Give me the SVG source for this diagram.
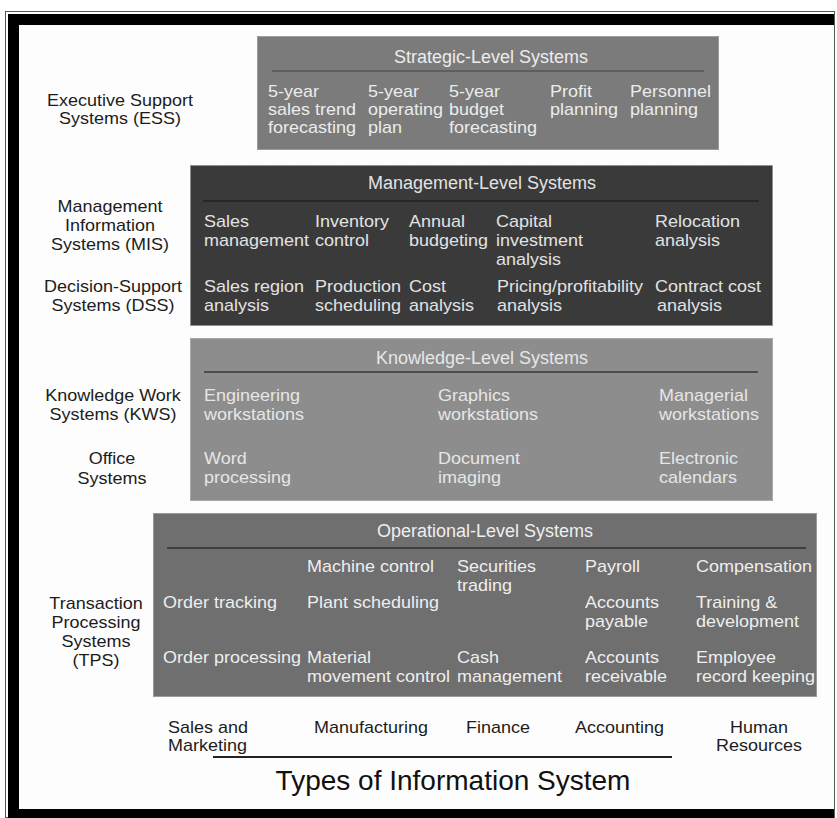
<svg xmlns="http://www.w3.org/2000/svg" width="837" height="818" viewBox="0 0 837 818">
  <style>
    text { font-family: "Liberation Sans", Arial, sans-serif; font-size: 16px; }
    .lbl { fill: #1c1c1c; text-anchor: middle; }
    .bot { fill: #1c1c1c; }
    .mid { text-anchor: middle; }
    .ttl { text-anchor: middle; font-size: 18px; }
    .s-box { fill: #7b7b7b; stroke: #9c9c9c; stroke-width: 1; }
    .m-box { fill: #3a3a3a; stroke: #8a8a8a; stroke-width: 1; stroke-dasharray: 2 1; }
    .k-box { fill: #8d8d8d; stroke: #a8a8a8; stroke-width: 1; }
    .o-box { fill: #6f6f6f; stroke: #9a9a9a; stroke-width: 1; }
    .s-txt { fill: #ececec; }
    .m-txt { fill: #e2e2e2; }
    .k-txt { fill: #e6e6e6; }
    .o-txt { fill: #eeeeee; }
  </style>

  <!-- page and frame -->
  <rect x="0" y="0" width="837" height="818" fill="#ffffff"/>
  <rect x="5.5" y="11.5" width="829" height="806" fill="none" stroke="#555" stroke-width="1"/>
  <rect x="8" y="14" width="826" height="11" fill="#000"/>
  <rect x="8" y="14" width="11" height="804" fill="#000"/>
  <rect x="8" y="809" width="826" height="9" fill="#000"/>
  <rect x="19" y="25" width="815" height="784" fill="#fdfdfd"/>

  <!-- row labels (16px glyphs widened 12.5% horizontally) -->
  <g id="label-ess">
    <text class="lbl" transform="matrix(1.125 0 0 1 120 106)">Executive Support</text>
    <text class="lbl" transform="matrix(1.125 0 0 1 120 124)">Systems (ESS)</text>
  </g>
  <g id="label-mis">
    <text class="lbl" transform="matrix(1.125 0 0 1 110 212)">Management</text>
    <text class="lbl" transform="matrix(1.125 0 0 1 110 231)">Information</text>
    <text class="lbl" transform="matrix(1.125 0 0 1 110 250)">Systems (MIS)</text>
  </g>
  <g id="label-dss">
    <text class="lbl" transform="matrix(1.125 0 0 1 113 292)">Decision-Support</text>
    <text class="lbl" transform="matrix(1.125 0 0 1 113 311)">Systems (DSS)</text>
  </g>
  <g id="label-kws">
    <text class="lbl" transform="matrix(1.125 0 0 1 113 401)">Knowledge Work</text>
    <text class="lbl" transform="matrix(1.125 0 0 1 113 420)">Systems (KWS)</text>
  </g>
  <g id="label-office">
    <text class="lbl" transform="matrix(1.125 0 0 1 112 464)">Office</text>
    <text class="lbl" transform="matrix(1.125 0 0 1 112 484)">Systems</text>
  </g>
  <g id="label-tps">
    <text class="lbl" transform="matrix(1.125 0 0 1 96 609)">Transaction</text>
    <text class="lbl" transform="matrix(1.125 0 0 1 96 628)">Processing</text>
    <text class="lbl" transform="matrix(1.125 0 0 1 96 647)">Systems</text>
    <text class="lbl" transform="matrix(1.125 0 0 1 96 666)">(TPS)</text>
  </g>

  <!-- strategic level -->
  <g id="strategic">
    <rect class="s-box" x="257.5" y="36.5" width="461" height="113"/>
    <text class="s-txt ttl" x="491" y="63">Strategic-Level Systems</text>
    <line x1="272" y1="71" x2="704" y2="71" stroke="#5e5e5e" stroke-width="2"/>
    <text class="s-txt" transform="matrix(1.125 0 0 1 268 97)">5-year</text>
    <text class="s-txt" transform="matrix(1.125 0 0 1 268 115)">sales trend</text>
    <text class="s-txt" transform="matrix(1.125 0 0 1 268 133)">forecasting</text>
    <text class="s-txt" transform="matrix(1.125 0 0 1 368 97)">5-year</text>
    <text class="s-txt" transform="matrix(1.125 0 0 1 368 115)">operating</text>
    <text class="s-txt" transform="matrix(1.125 0 0 1 368 133)">plan</text>
    <text class="s-txt" transform="matrix(1.125 0 0 1 449 97)">5-year</text>
    <text class="s-txt" transform="matrix(1.125 0 0 1 449 115)">budget</text>
    <text class="s-txt" transform="matrix(1.125 0 0 1 449 133)">forecasting</text>
    <text class="s-txt" transform="matrix(1.125 0 0 1 550 97)">Profit</text>
    <text class="s-txt" transform="matrix(1.125 0 0 1 550 115)">planning</text>
    <text class="s-txt" transform="matrix(1.125 0 0 1 630 97)">Personnel</text>
    <text class="s-txt" transform="matrix(1.125 0 0 1 630 115)">planning</text>
  </g>

  <!-- management level -->
  <g id="management">
    <rect class="m-box" x="190.5" y="165.5" width="582" height="160"/>
    <text class="m-txt ttl" x="482" y="189">Management-Level Systems</text>
    <line x1="203" y1="201" x2="759" y2="201" stroke="#222" stroke-width="1.5"/>
    <text class="m-txt" transform="matrix(1.125 0 0 1 204 227)">Sales</text>
    <text class="m-txt" transform="matrix(1.125 0 0 1 204 246)">management</text>
    <text class="m-txt" transform="matrix(1.125 0 0 1 315 227)">Inventory</text>
    <text class="m-txt" transform="matrix(1.125 0 0 1 315 246)">control</text>
    <text class="m-txt" transform="matrix(1.125 0 0 1 409 227)">Annual</text>
    <text class="m-txt" transform="matrix(1.125 0 0 1 409 246)">budgeting</text>
    <text class="m-txt" transform="matrix(1.125 0 0 1 496 227)">Capital</text>
    <text class="m-txt" transform="matrix(1.125 0 0 1 496 246)">investment</text>
    <text class="m-txt" transform="matrix(1.125 0 0 1 496 265)">analysis</text>
    <text class="m-txt" transform="matrix(1.125 0 0 1 655 227)">Relocation</text>
    <text class="m-txt" transform="matrix(1.125 0 0 1 655 246)">analysis</text>
    <text class="m-txt" transform="matrix(1.125 0 0 1 204 292)">Sales region</text>
    <text class="m-txt" transform="matrix(1.125 0 0 1 204 311)">analysis</text>
    <text class="m-txt" transform="matrix(1.125 0 0 1 315 292)">Production</text>
    <text class="m-txt" transform="matrix(1.125 0 0 1 315 311)">scheduling</text>
    <text class="m-txt" transform="matrix(1.125 0 0 1 409 292)">Cost</text>
    <text class="m-txt" transform="matrix(1.125 0 0 1 409 311)">analysis</text>
    <text class="m-txt" transform="matrix(1.125 0 0 1 497 292)">Pricing/profitability</text>
    <text class="m-txt" transform="matrix(1.125 0 0 1 497 311)">analysis</text>
    <text class="m-txt" transform="matrix(1.125 0 0 1 655 292)">Contract cost</text>
    <text class="m-txt" transform="matrix(1.125 0 0 1 657 311)">analysis</text>
  </g>

  <!-- knowledge level -->
  <g id="knowledge">
    <rect class="k-box" x="190.5" y="338.5" width="582" height="162"/>
    <text class="k-txt ttl" x="482" y="364">Knowledge-Level Systems</text>
    <line x1="204" y1="372" x2="758" y2="372" stroke="#4c4c4c" stroke-width="2"/>
    <text class="k-txt" transform="matrix(1.125 0 0 1 204 401)">Engineering</text>
    <text class="k-txt" transform="matrix(1.125 0 0 1 204 420)">workstations</text>
    <text class="k-txt" transform="matrix(1.125 0 0 1 438 401)">Graphics</text>
    <text class="k-txt" transform="matrix(1.125 0 0 1 438 420)">workstations</text>
    <text class="k-txt" transform="matrix(1.125 0 0 1 659 401)">Managerial</text>
    <text class="k-txt" transform="matrix(1.125 0 0 1 659 420)">workstations</text>
    <text class="k-txt" transform="matrix(1.125 0 0 1 204 464)">Word</text>
    <text class="k-txt" transform="matrix(1.125 0 0 1 204 483)">processing</text>
    <text class="k-txt" transform="matrix(1.125 0 0 1 438 464)">Document</text>
    <text class="k-txt" transform="matrix(1.125 0 0 1 438 483)">imaging</text>
    <text class="k-txt" transform="matrix(1.125 0 0 1 659 464)">Electronic</text>
    <text class="k-txt" transform="matrix(1.125 0 0 1 659 483)">calendars</text>
  </g>

  <!-- operational level -->
  <g id="operational">
    <rect class="o-box" x="153.5" y="513.5" width="663" height="183"/>
    <text class="o-txt ttl" x="485" y="537">Operational-Level Systems</text>
    <line x1="167" y1="548" x2="806" y2="548" stroke="#3e3e3e" stroke-width="2"/>
    <text class="o-txt" transform="matrix(1.125 0 0 1 307 572)">Machine control</text>
    <text class="o-txt" transform="matrix(1.125 0 0 1 457 572)">Securities</text>
    <text class="o-txt" transform="matrix(1.125 0 0 1 457 591)">trading</text>
    <text class="o-txt" transform="matrix(1.125 0 0 1 585 572)">Payroll</text>
    <text class="o-txt" transform="matrix(1.125 0 0 1 696 572)">Compensation</text>
    <text class="o-txt" transform="matrix(1.125 0 0 1 163 608)">Order tracking</text>
    <text class="o-txt" transform="matrix(1.125 0 0 1 307 608)">Plant scheduling</text>
    <text class="o-txt" transform="matrix(1.125 0 0 1 585 608)">Accounts</text>
    <text class="o-txt" transform="matrix(1.125 0 0 1 585 627)">payable</text>
    <text class="o-txt" transform="matrix(1.125 0 0 1 696 608)">Training &amp;</text>
    <text class="o-txt" transform="matrix(1.125 0 0 1 696 627)">development</text>
    <text class="o-txt" transform="matrix(1.125 0 0 1 163 663)">Order processing</text>
    <text class="o-txt" transform="matrix(1.125 0 0 1 307 663)">Material</text>
    <text class="o-txt" transform="matrix(1.125 0 0 1 307 682)">movement control</text>
    <text class="o-txt" transform="matrix(1.125 0 0 1 457 663)">Cash</text>
    <text class="o-txt" transform="matrix(1.125 0 0 1 457 682)">management</text>
    <text class="o-txt" transform="matrix(1.125 0 0 1 585 663)">Accounts</text>
    <text class="o-txt" transform="matrix(1.125 0 0 1 585 682)">receivable</text>
    <text class="o-txt" transform="matrix(1.125 0 0 1 696 663)">Employee</text>
    <text class="o-txt" transform="matrix(1.125 0 0 1 696 682)">record keeping</text>
  </g>

  <!-- functional areas along the bottom -->
  <g id="areas">
    <text class="bot" transform="matrix(1.125 0 0 1 168 733)">Sales and</text>
    <text class="bot" transform="matrix(1.125 0 0 1 168 751)">Marketing</text>
    <text class="bot" transform="matrix(1.125 0 0 1 314 733)">Manufacturing</text>
    <text class="bot" transform="matrix(1.125 0 0 1 466 733)">Finance</text>
    <text class="bot" transform="matrix(1.125 0 0 1 575 733)">Accounting</text>
    <text class="bot mid" transform="matrix(1.125 0 0 1 759 733)">Human</text>
    <text class="bot mid" transform="matrix(1.125 0 0 1 759 751)">Resources</text>
  </g>

  <!-- caption -->
  <g id="caption">
    <line x1="213" y1="757" x2="672" y2="757" stroke="#222" stroke-width="2"/>
    <text x="453" y="790" text-anchor="middle" fill="#111" style="font-size:28px">Types of Information System</text>
  </g>
</svg>
